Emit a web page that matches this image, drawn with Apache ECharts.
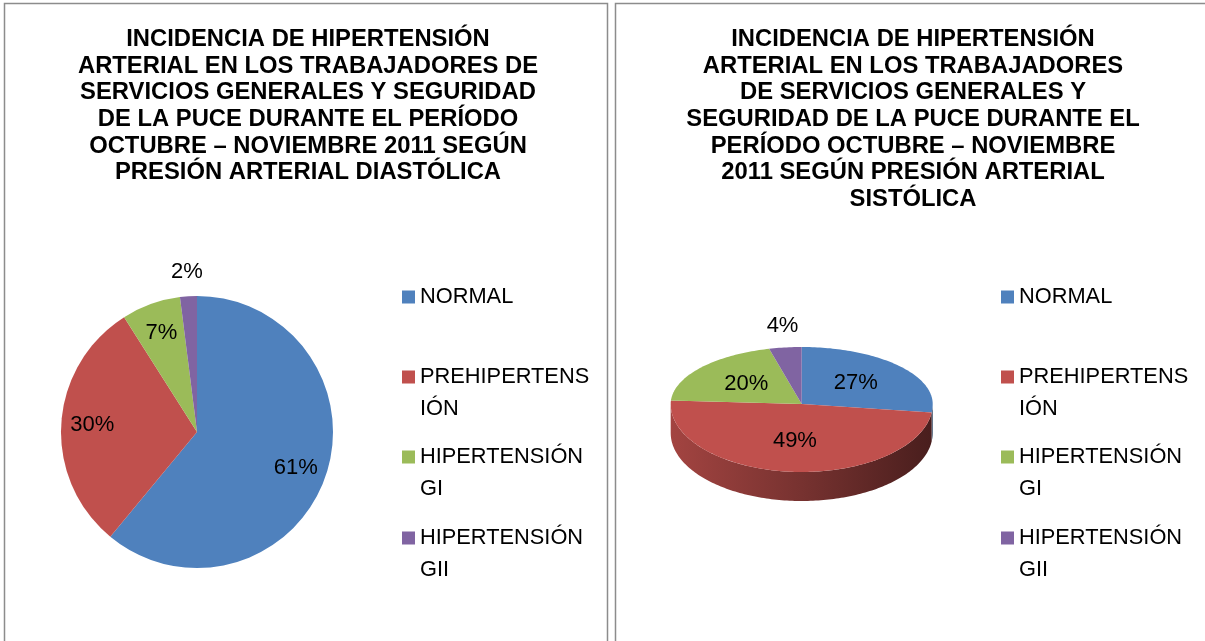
<!DOCTYPE html>
<html>
<head>
<meta charset="utf-8">
<title>Incidencia de hipertensión arterial - PUCE 2011</title>
<script src="https://cdn.jsdelivr.net/npm/echarts@6/dist/echarts.min.js"></script>
<style>
    html, body { margin: 0; padding: 0; background: #fff; }
    #main { width: 1205px; height: 641px; }
</style>
</head>
<body>
<div id="main"></div>
<script>
// categorias de la leyenda
var categorias = ['NORMAL', 'PREHIPERTENSIÓN', 'HIPERTENSIÓN GI', 'HIPERTENSIÓN GII'];
// como se corta el texto en la leyenda
var etiquetasLeyenda = ['NORMAL', 'PREHIPERTENS\nIÓN', 'HIPERTENSIÓN\nGI', 'HIPERTENSIÓN\nGII'];
// porcentajes (%)
var diastolica = [61, 30, 7, 2];
var sistolica = [27, 49, 20, 4];
var colores = ['#4F81BD', '#C0504D', '#9BBB59', '#8064A2'];

var tituloDiastolica = 'INCIDENCIA DE HIPERTENSIÓN\nARTERIAL EN LOS TRABAJADORES DE\nSERVICIOS GENERALES Y SEGURIDAD\nDE LA PUCE DURANTE EL PERÍODO\nOCTUBRE – NOVIEMBRE 2011 SEGÚN\nPRESIÓN ARTERIAL DIASTÓLICA';
var tituloSistolica = 'INCIDENCIA DE HIPERTENSIÓN\nARTERIAL EN LOS TRABAJADORES\nDE SERVICIOS GENERALES Y\nSEGURIDAD DE LA PUCE DURANTE EL\nPERÍODO OCTUBRE – NOVIEMBRE\n2011 SEGÚN PRESIÓN ARTERIAL\nSISTÓLICA';

var fuente = 'Liberation Sans';
var chart = echarts.init(document.getElementById('main'));

var datosDiastolica = categorias.map(function (n, i) {
    return { name: n, value: diastolica[i] };
});

//pastel plano (diastolica)
var centroPlano = [197, 432];
var radioPlano = 136;

function serieEtiquetas(radio, mostrar) {
    // serie transparente solo para ubicar las etiquetas
    return {
        type: 'pie',
        center: centroPlano,
        radius: radio,
        startAngle: 90,
        silent: true,
        itemStyle: { color: 'rgba(0,0,0,0)' },
        emphasis: { disabled: true },
        labelLine: { show: false },
        label: {
            show: true,
            position: 'inside',
            rotate: 0,
            color: '#000',
            fontFamily: fuente,
            fontSize: 22,
            formatter: function (p) {
                return mostrar(p.percent) ? Math.round(p.percent) + '%' : '';
            }
        },
        data: datosDiastolica
    };
}

//pastel 3D (sistolica)
var p3d = { cx: 801.7, cy: 404, rx: 131, ryAtras: 57, ryFrente: 68, alto: 29 };

function puntoCara(a, bajar) {
    var c = Math.cos(a), s = Math.sin(a);
    return [p3d.cx + p3d.rx * s, p3d.cy - (c > 0 ? p3d.ryAtras : p3d.ryFrente) * c + (bajar || 0)];
}

function oscurecer(hex, f) {
    var n = parseInt(hex.slice(1), 16);
    return 'rgb(' + Math.round(((n >> 16) & 255) * f) + ',' + Math.round(((n >> 8) & 255) * f) + ',' + Math.round((n & 255) * f) + ')';
}

function rebanada(i) {
    return function (params, api) {
        var total = 0, inicio = 0;
        sistolica.forEach(function (v, j) {
            total += v;
            if (j < i) inicio += v;
        });
        var valor = api.value(0);
        var a1 = inicio / total * 2 * Math.PI;
        var a2 = (inicio + valor) / total * 2 * Math.PI;
        var k, hijos = [];

        var pasos = Math.max(2, Math.ceil((a2 - a1) / 0.02));
        var cara = [[p3d.cx, p3d.cy]];
        for (k = 0; k <= pasos; k++) cara.push(puntoCara(a1 + (a2 - a1) * k / pasos));

        // pared frontal
        var f1 = Math.max(a1, Math.PI / 2), f2 = Math.min(a2, Math.PI * 1.5);
        if (f2 > f1) {
            var lado = [], m = Math.max(2, Math.ceil((f2 - f1) / 0.02));
            for (k = 0; k <= m; k++) lado.push(puntoCara(f1 + (f2 - f1) * k / m));
            for (k = m; k >= 0; k--) lado.push(puntoCara(f1 + (f2 - f1) * k / m, p3d.alto));
            hijos.push({
                type: 'polygon',
                z2: 1,
                shape: { points: lado },
                style: {
                    fill: new echarts.graphic.LinearGradient(0, 0, 1, 0, [
                        { offset: 0, color: oscurecer(colores[i], 0.85) },
                        { offset: 0.5, color: oscurecer(colores[i], 0.62) },
                        { offset: 1, color: oscurecer(colores[i], 0.38) }
                    ])
                }
            });
        }
        hijos.push({ type: 'polygon', z2: 5, shape: { points: cara }, style: { fill: api.visual('color') } });

        var pct = Math.round(valor / total * 100);
        var medio = (a1 + a2) / 2, pos;
        if (pct >= 5) {
            pos = [p3d.cx + 0.55 * p3d.rx * Math.sin(medio),
                   p3d.cy - 0.55 * (Math.cos(medio) > 0 ? p3d.ryAtras : p3d.ryFrente) * Math.cos(medio)];
        } else {
            pos = [p3d.cx + (p3d.rx + 22) * Math.sin(medio),
                   p3d.cy - (p3d.ryAtras + 22) * Math.cos(medio)];
        }
        hijos.push({
            type: 'text',
            z2: 10,
            style: {
                text: pct + '%', x: pos[0], y: pos[1],
                align: 'center', verticalAlign: 'middle',
                fill: '#000', font: '22px "' + fuente + '"'
            }
        });
        return { type: 'group', children: hijos };
    };
}

var seriesSistolica = categorias.map(function (n, i) {
    return {
        type: 'custom',
        name: n,
        coordinateSystem: 'none',
        silent: true,
        itemStyle: { color: colores[i] },
        renderItem: rebanada(i),
        data: [[sistolica[i]]]
    };
});

//leyendas, una por renglon; en las de dos lineas el cuadro queda arriba, junto a la primera
var iconoAlto = 'path://M0,0H13V13H0Z M0,44.99L0.01,45L0,45Z';
var centrosLeyenda = [296, 376, 456, 537];
function leyendas(izq) {
    return categorias.map(function (n, i) {
        var dosLineas = etiquetasLeyenda[i].indexOf('\n') >= 0;
        return {
            orient: 'vertical',
            left: izq,
            top: centrosLeyenda[i] - 15,
            padding: 0,
            itemWidth: 13,
            itemHeight: dosLineas ? 45 : 13,
            icon: dosLineas ? iconoAlto : 'rect',
            selectedMode: false,
            formatter: function () { return etiquetasLeyenda[i]; },
            textStyle: {
                fontFamily: fuente,
                fontSize: 21.8,
                color: '#000',
                lineHeight: 32
            },
            data: [n]
        };
    });
}

var estiloTitulo = { fontFamily: fuente, fontSize: 23.8, fontWeight: 'bold', color: '#000', lineHeight: 26.7 };

var option = {
    animation: false,
    color: colores,
    title: [
        { text: tituloDiastolica, left: 308, top: 26, textAlign: 'center', padding: 0, textStyle: estiloTitulo },
        { text: tituloSistolica, left: 913, top: 26, textAlign: 'center', padding: 0, textStyle: estiloTitulo }
    ],
    legend: leyendas(402).concat(leyendas(1001)),
    graphic: [
        { type: 'rect', silent: true, z: -1, shape: { x: 4.5, y: 3.5, width: 603, height: 700 }, style: { fill: 'none', stroke: '#8c8c8c', lineWidth: 1.5 } },
        { type: 'rect', silent: true, z: -1, shape: { x: 615.5, y: 3.5, width: 600, height: 700 }, style: { fill: 'none', stroke: '#8c8c8c', lineWidth: 1.5 } }
    ],
    series: [
        {
            type: 'pie',
            center: centroPlano,
            radius: radioPlano,
            startAngle: 90,
            silent: true,
            label: { show: false },
            labelLine: { show: false },
            emphasis: { disabled: true },
            data: datosDiastolica
        },
        serieEtiquetas([radioPlano * 0.5, radioPlano], function (p) { return p >= 5; }),
        serieEtiquetas([radioPlano, radioPlano * 1.31], function (p) { return p < 5; })
    ].concat(seriesSistolica)
};
chart.setOption(option);
</script>
</body>
</html>
